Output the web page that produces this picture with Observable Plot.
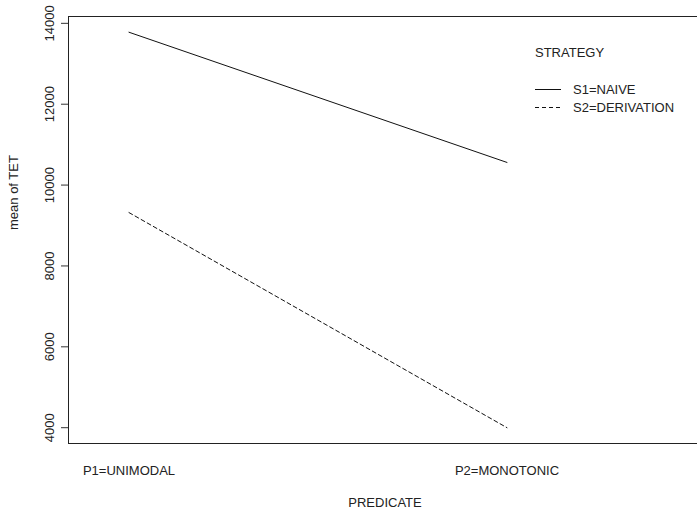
<!DOCTYPE html>
<html>
<head>
<meta charset="utf-8">
<script src="https://cdn.jsdelivr.net/npm/d3@7"></script>
<script src="https://cdn.jsdelivr.net/npm/@observablehq/plot@0.6"></script>
<style>
  html, body { margin: 0; padding: 0; background: #fff; overflow: hidden; }
  #wrap { position: relative; width: 697px; height: 515px; overflow: hidden; font-family: "Liberation Sans", Arial, sans-serif; }
  #chart { position: absolute; left: 0; top: 0; }
  #chart svg { overflow: hidden; }
  #edge { position: absolute; left: 695px; top: 20px; width: 2px; height: 420px; background: #fff; }
  #legend { position: absolute; left: 0; top: 0; font-size: 13px; color: #222; }
  #legend .title { position: absolute; left: 535px; top: 45px; white-space: nowrap; }
  #legend .item { position: absolute; left: 535px; white-space: nowrap; height: 16px; line-height: 16px; }
  #legend .item svg { position: absolute; left: 0; top: 0; }
  #legend .item span { position: absolute; left: 38px; top: 0; }
</style>
</head>
<body>
<div id="wrap"><div id="chart"></div><div id="edge"></div><div id="legend"></div></div>
<script>
const predicates = ["P1=UNIMODAL", "P2=MONOTONIC"];
const strategies = ["S1=NAIVE", "S2=DERIVATION"];
const s1Naive = [13780, 10560];
const s2Derivation = [9320, 4000];
const yTicks = [4000, 6000, 8000, 10000, 12000, 14000];
const xLabel = "PREDICATE";
const yLabel = "mean of TET";
const legendTitle = "STRATEGY";

const yDomain = [3609, 14169];
const xDomain = [0.84, 2.557];

const rows1 = predicates.map((p, i) => ({pos: i + 1, predicate: p, value: s1Naive[i], strategy: strategies[0]}));
const rows2 = predicates.map((p, i) => ({pos: i + 1, predicate: p, value: s2Derivation[i], strategy: strategies[1]}));

const chart = Plot.plot({
  width: 697,
  height: 515,
  marginLeft: 68,
  marginTop: 16,
  marginBottom: 72,
  marginRight: -20,
  style: {fontFamily: "'Liberation Sans', Arial, sans-serif", fontSize: "13px", color: "#222", background: "#fff", overflow: "hidden"},
  x: {type: "linear", domain: xDomain},
  y: {type: "linear", domain: yDomain},
  marks: [
    Plot.ruleY(yDomain, {stroke: "#222", strokeWidth: 1}),
    Plot.ruleX([xDomain[0]], {stroke: "#222", strokeWidth: 1}),
    Plot.axisY({ticks: yTicks, tickRotate: -90, tickSize: 7, tickPadding: 8, tickFormat: d => String(d), label: null, stroke: "#333"}),
    Plot.axisX({ticks: predicates.map((p, i) => i + 1), tickFormat: v => predicates[v - 1], tickSize: 0, tickPadding: 22, label: null}),
    Plot.line(rows1, {x: "pos", y: "value", stroke: "#111", strokeWidth: 1}),
    Plot.line(rows2, {x: "pos", y: "value", stroke: "#111", strokeWidth: 1, strokeDasharray: "4,3"}),
    Plot.text([xLabel], {text: d => d, frameAnchor: "bottom", dy: 63, dx: -8, fill: "#222"}),
    Plot.text([yLabel], {text: d => d, frameAnchor: "left", rotate: -90, dx: -55, fill: "#222"})
  ]
});
document.getElementById("chart").appendChild(chart);

const legend = document.getElementById("legend");
const t = document.createElement("div");
t.className = "title";
t.textContent = legendTitle;
legend.appendChild(t);
const dashes = [null, "4,3"];
strategies.forEach((s, i) => {
  const item = document.createElement("div");
  item.className = "item";
  item.style.top = (82 + i * 18) + "px";
  item.innerHTML = `<svg width="30" height="16"><line x1="0" x2="26" y1="7.5" y2="7.5" stroke="#111" stroke-width="1" ${dashes[i] ? `stroke-dasharray="${dashes[i]}"` : ""}></line></svg><span></span>`;
  item.querySelector("span").textContent = s;
  legend.appendChild(item);
});
</script>
</body>
</html>
